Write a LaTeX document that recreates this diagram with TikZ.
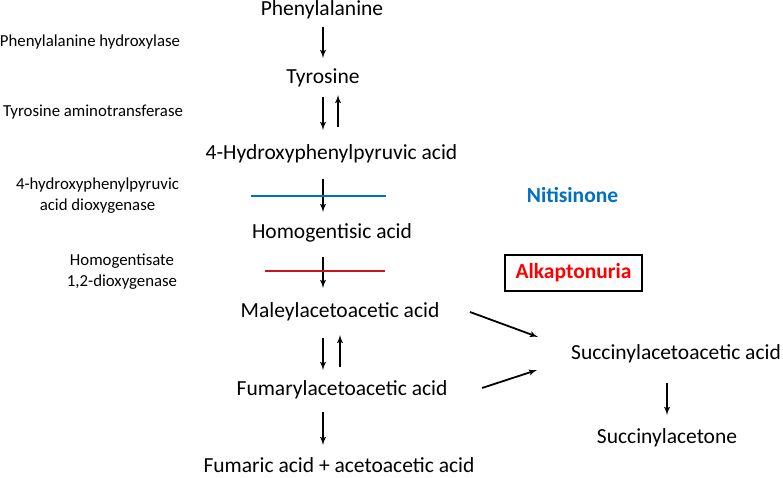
\documentclass[tikz,border=0pt]{standalone}
\usepackage{fontspec}
\setmainfont{Carlito}
\usepackage{xcolor}
\usepackage{tikz}
\usetikzlibrary{arrows,shapes,positioning}
\definecolor{nitiblue}{RGB}{0,112,192}
\definecolor{akured}{RGB}{255,0,0}
\definecolor{barred}{RGB}{200,20,30}
\tikzstyle{chem} = [font=\fontsize{21.5}{24}\selectfont, inner sep=1pt]
\tikzstyle{enzyme} = [font=\fontsize{16.8}{21}\selectfont, align=center, inner sep=1pt]
\tikzstyle{line} = [draw, line width=1.8pt, -latex']
\tikzstyle{bar} = [line width=2.4pt]
\tikzstyle{disease} = [draw, line width=1.4pt, inner sep=0pt, minimum width=137pt,
    minimum height=36pt, font=\fontsize{21.5}{24}\selectfont\bfseries, text=akured]

\begin{document}
\begin{tikzpicture}[x=1pt, y=-1pt]
\useasboundingbox (0,0) rectangle (783,477);
    % Place nodes
    \node [chem] (phe) at (322,10) {Phenylalanine};
    \node [chem] (tyr) at (323,78) {Tyrosine};
    \node [chem] (hpp) at (331.5,154) {4-Hydroxyphenylpyruvic acid};
    \node [chem] (hga) at (332,233) {Homogentisic acid};
    \node [chem] (maa) at (340,312) {Maleylacetoacetic acid};
    \node [chem] (faa) at (342,390) {Fumarylacetoacetic acid};
    \node [chem] (fum) at (339,465) {Fumaric acid + acetoacetic acid};
    \node [chem] (saa) at (676,354) {Succinylacetoacetic acid};
    \node [chem] (sa) at (667,438) {Succinylacetone};

    % Enzymes
    \node [enzyme] (pah) at (90,42) {Phenylalanine hydroxylase};
    \node [enzyme] (tat) at (93,112) {Tyrosine aminotransferase};
    \node [enzyme] (hppd) at (97.5,196) {4-hydroxyphenylpyruvic\\acid dioxygenase};
    \node [enzyme] (hgd) at (122,272) {Homogentisate\\1,2-dioxygenase};

    % Drug and disease
    \node [font=\fontsize{21.5}{24}\selectfont\bfseries, text=nitiblue] (nit) at (572.5,195) {Nitisinone};
    \node [disease] (aku) at (573.5,273) {Alkaptonuria};

    % Draw edges
    \path [line] ([xshift=1pt,yshift=-17pt]phe.center) -- ([yshift=20pt]tyr.center);
    \path [line] ([yshift=-19pt]tyr.center) -- ([xshift=-8.5pt,yshift=24pt]hpp.center);
    \path [line] ([xshift=6.5pt,yshift=27pt]hpp.center) -- ([xshift=15pt,yshift=-17pt]tyr.center);
    \path [line] ([xshift=-8.5pt,yshift=-25pt]hpp.center) -- ([xshift=-9pt,yshift=21pt]hga.center);
    \path [line] ([xshift=-9pt,yshift=-24pt]hga.center) -- ([xshift=-17pt,yshift=24pt]maa.center);
    \path [line] ([xshift=-17pt,yshift=-26pt]maa.center) -- ([xshift=-19pt,yshift=20pt]faa.center);
    \path [line] ([xshift=-2pt,yshift=23pt]faa.center) -- ([yshift=-23pt]maa.center);
    \path [line] ([xshift=-19pt,yshift=-22pt]faa.center) -- ([xshift=-16pt,yshift=20pt]fum.center);
    \path [line] ([xshift=-9pt,yshift=-29pt]saa.center) -- ([yshift=23pt]sa.center);
    \path [line] ([xshift=130pt]maa.center) -- ([xshift=-138pt,yshift=17pt]saa.center);
    \path [line] ([xshift=140pt,yshift=2pt]faa.center) -- ([xshift=-139pt,yshift=-16pt]saa.center);

    % Inhibition bars
    \draw [bar, nitiblue] (251,196) -- (386,196);
    \draw [bar, barred] (265,271) -- (385,271);
\end{tikzpicture}
\end{document}
